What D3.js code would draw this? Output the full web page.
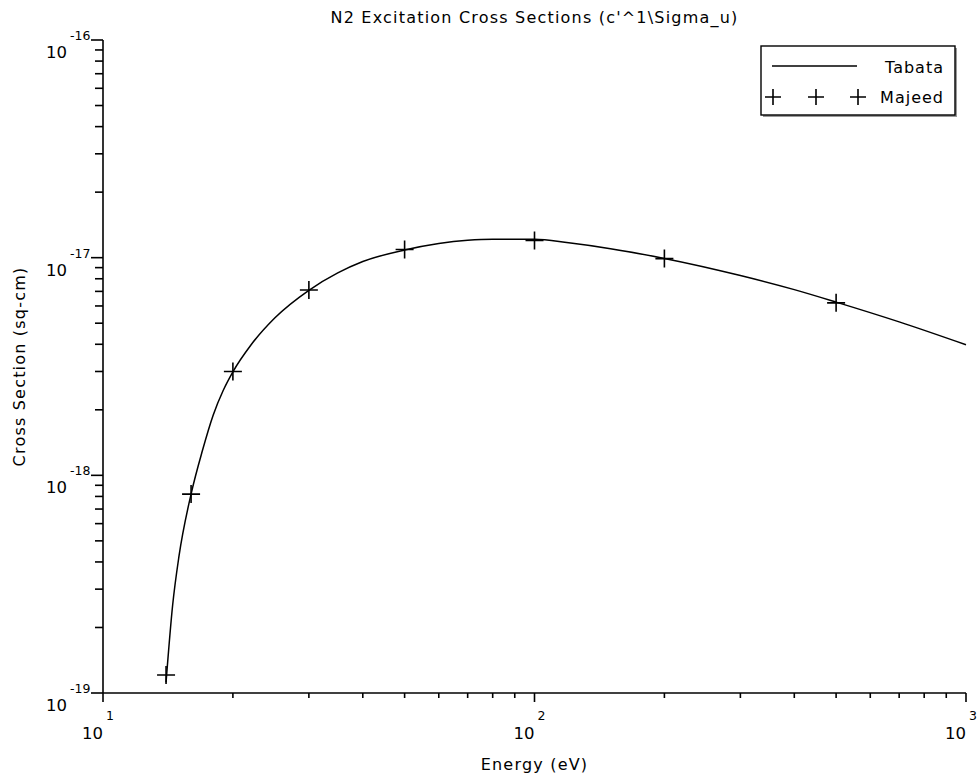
<!DOCTYPE html>
<html>
<head>
<meta charset="utf-8">
<script src="https://cdn.jsdelivr.net/npm/d3@7"></script>
<style>
  body { margin: 0; background: #fff; }
  text { font-family: "DejaVu Sans", sans-serif; fill: #000; }
</style>
</head>
<body>
<div id="chart-area"></div>
<script>
// Tabata fit curve
var tabataEnergy = [14, 14.5, 15, 16, 17, 18, 19, 20, 22, 25, 30, 35, 40, 50, 60, 70, 80, 100, 120, 150, 200, 300, 400, 500, 700, 1000];
var tabataSigma = [1.12e-19, 2.53e-19, 4.25e-19, 8.2e-19, 1.30e-18, 1.89e-18, 2.46e-18, 2.99e-18, 3.96e-18, 5.28e-18,
                   7.08e-18, 8.51e-18, 9.6e-18, 1.084e-17, 1.161e-17, 1.202e-17, 1.216e-17, 1.216e-17, 1.17e-17, 1.10e-17,
                   9.92e-18, 8.28e-18, 7.13e-18, 6.25e-18, 5.07e-18, 3.98e-18];
// Majeed measurements
var majeedEnergy = [14, 16, 20, 30, 50, 100, 200, 500];
var majeedSigma = [1.21e-19, 8.2e-19, 3.0e-18, 7.1e-18, 1.09e-17, 1.20e-17, 9.9e-18, 6.2e-18];

var xExponents = [1, 2, 3];
var yExponents = [-19, -18, -17, -16];
var seriesNames = ["Tabata", "Majeed"];

var W = 977, H = 781;
var margin = {left: 103, right: 11, top: 40, bottom: 88};

var svg = d3.select("#chart-area")
  .append("svg")
    .attr("width", W)
    .attr("height", H);

var x = d3.scaleLog()
    .domain([Math.pow(10, xExponents[0]), Math.pow(10, xExponents[xExponents.length - 1])])
    .range([margin.left, W - margin.right]);

var y = d3.scaleLog()
    .domain([Math.pow(10, yExponents[0]), Math.pow(10, yExponents[yExponents.length - 1])])
    .range([H - margin.bottom, margin.top]);

var x0 = x.range()[0], x1 = x.range()[1];
var y0 = y.range()[0], y1 = y.range()[1];

// axes: lines + ticks (drawn by hand to get the scilab look)
var axes = svg.append("g").attr("stroke", "#000").attr("stroke-width", 1.6);
axes.append("line").attr("x1", x0).attr("x2", x1).attr("y1", y0).attr("y2", y0);
axes.append("line").attr("x1", x0).attr("x2", x0).attr("y1", y0).attr("y2", y1);

var isMajor = (v) => Math.abs(Math.log10(v) - Math.round(Math.log10(v))) < 1e-9;

axes.selectAll(".xt").data(x.ticks()).enter()
  .append("line")
    .attr("x1", (d) => x(d)).attr("x2", (d) => x(d))
    .attr("y1", y0).attr("y2", (d) => y0 + (isMajor(d) ? 9 : 5));

axes.selectAll(".yt").data(y.ticks()).enter()
  .append("line")
    .attr("y1", (d) => y(d)).attr("y2", (d) => y(d))
    .attr("x1", x0).attr("x2", (d) => x0 - (isMajor(d) ? 12 : 8));

// tick labels: 10 with exponent
xExponents.forEach((e) => {
    var px = x(Math.pow(10, e));
    svg.append("text").attr("x", px).attr("y", y0 + 46)
        .attr("text-anchor", "end").attr("font-size", "16.5px").text("10");
    svg.append("text").attr("x", px + 3).attr("y", y0 + 27)
        .attr("font-size", "12.5px").text(e);
});
yExponents.forEach((e) => {
    var py = y(Math.pow(10, e));
    svg.append("text").attr("x", x0 - 36).attr("y", py + 18)
        .attr("text-anchor", "end").attr("font-size", "16.5px").text("10");
    svg.append("text").attr("x", x0 - 33).attr("y", py)
        .attr("font-size", "12.5px").text(e);
});

// titles
svg.append("text")
    .attr("x", (x0 + x1) / 2).attr("y", 23)
    .attr("text-anchor", "middle").attr("font-size", "16px").attr("letter-spacing", "1.2px")
    .text("N2 Excitation Cross Sections (c'^1\\Sigma_u)");

svg.append("text")
    .attr("x", (x0 + x1) / 2).attr("y", 770)
    .attr("text-anchor", "middle").attr("font-size", "16px").attr("letter-spacing", "1.2px")
    .text("Energy (eV)");

svg.append("text")
    .attr("transform", "translate(25," + ((y0 + y1) / 2) + ") rotate(-90)")
    .attr("x", 0).attr("y", 0)
    .attr("text-anchor", "middle").attr("font-size", "16px").attr("letter-spacing", "1.2px")
    .text("Cross Section (sq-cm)");

// Tabata curve
var tabata = tabataEnergy.map((e, i) => ({e: e, s: tabataSigma[i]}));
var line = d3.line()
    .x((d) => x(d.e))
    .y((d) => y(d.s))
    .curve(d3.curveMonotoneX);

svg.append("path")
    .datum(tabata)
    .attr("d", line)
    .attr("fill", "none")
    .attr("stroke", "#000")
    .attr("stroke-width", 1.5);

// Majeed markers
var plus = (s) => "M" + (-s) + ",0H" + s + "M0," + (-s) + "V" + s;
var majeed = majeedEnergy.map((e, i) => ({e: e, s: majeedSigma[i]}));
svg.selectAll(".mj").data(majeed).enter()
  .append("path")
    .attr("transform", (d) => "translate(" + x(d.e) + "," + y(d.s) + ")")
    .attr("d", plus(9))
    .attr("stroke", "#000")
    .attr("stroke-width", 1.6)
    .attr("fill", "none");

// legend
var lg = svg.append("g").attr("transform", "translate(761,46)");
lg.append("rect").attr("x", 2).attr("y", 2).attr("width", 194).attr("height", 69).attr("fill", "#999");
lg.append("rect").attr("x", 0).attr("y", 0).attr("width", 194).attr("height", 69)
    .attr("fill", "#fff").attr("stroke", "#000").attr("stroke-width", 1.4);
lg.append("line").attr("x1", 11).attr("x2", 96).attr("y1", 20).attr("y2", 20)
    .attr("stroke", "#000").attr("stroke-width", 1.6);
[12, 55, 97].forEach((px) => {
    lg.append("path").attr("transform", "translate(" + px + ",51)")
        .attr("d", plus(8)).attr("stroke", "#000").attr("stroke-width", 1.6);
});
seriesNames.forEach((n, i) => {
    lg.append("text").attr("x", 183).attr("y", 27 + i * 30)
        .attr("text-anchor", "end").attr("font-size", "16px").attr("letter-spacing", "1px")
        .text(n);
});
</script>
</body>
</html>
